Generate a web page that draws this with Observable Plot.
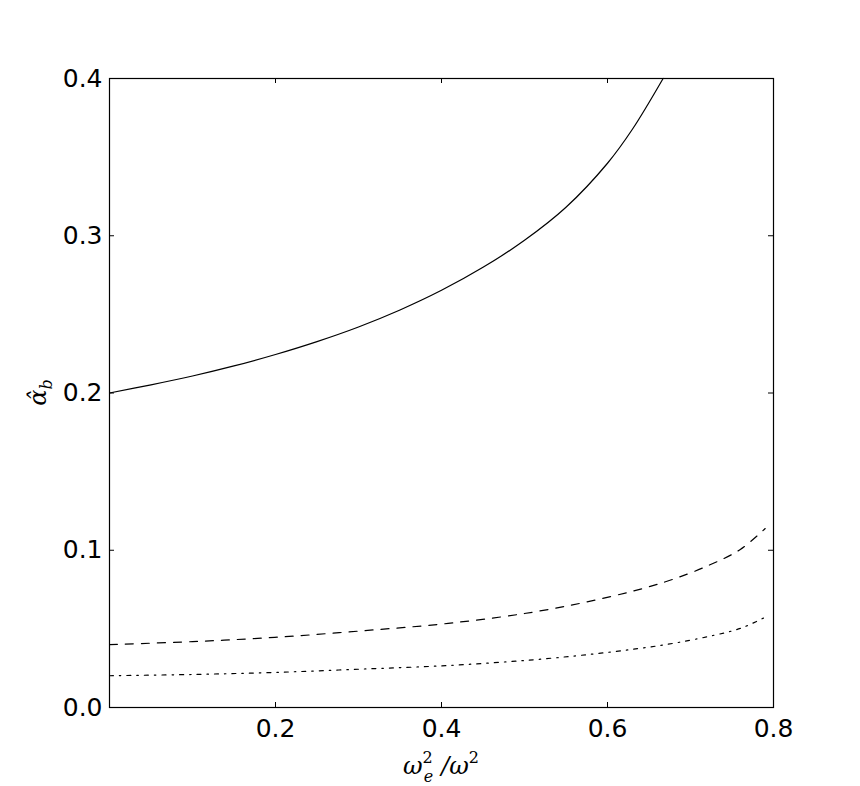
<!DOCTYPE html>
<html>
<head>
<meta charset="utf-8">
<script src="https://cdn.jsdelivr.net/npm/d3@7"></script>
<script src="https://cdn.jsdelivr.net/npm/@observablehq/plot@0.6"></script>
<style>
  html, body { margin: 0; padding: 0; background: #fff; }
  #chart svg { display: block; }
</style>
</head>
<body>
<div id="chart"></div>
<script>
// x values (ω_e^2/ω^2) and curve values
const xSolid = [0, 0.05, 0.1, 0.15, 0.2, 0.25, 0.3, 0.35, 0.4, 0.45, 0.5, 0.55, 0.6, 0.63, 0.667];
const ySolid = [0.2, 0.2052, 0.2108, 0.2172, 0.2245, 0.2327, 0.242, 0.2528, 0.2653, 0.2799, 0.2971, 0.3181, 0.3461, 0.3677, 0.4];

const xDashed = [0, 0.1, 0.199, 0.303, 0.408, 0.512, 0.601, 0.669, 0.722, 0.76, 0.79];
const yDashed = [0.04, 0.0419, 0.0446, 0.0487, 0.0535, 0.0608, 0.0702, 0.0798, 0.0904, 0.1005, 0.1138];

const xDashDot = [0, 0.1, 0.199, 0.303, 0.408, 0.512, 0.601, 0.669, 0.722, 0.76, 0.79];
const yDashDot = [0.0202, 0.021, 0.0223, 0.0244, 0.0267, 0.0304, 0.0351, 0.0399, 0.0452, 0.0503, 0.0574];

const xTickLabels = [0.2, 0.4, 0.6, 0.8];
const yTickLabels = [0.0, 0.1, 0.2, 0.3, 0.4];
const xTickMarks = [0.2, 0.4, 0.6];
const yTickMarks = [0.1, 0.2, 0.3];

const toRows = (xs, ys) => xs.map((x, i) => ({x, y: ys[i]}));
const solid = toRows(xSolid, ySolid);
const dashed = toRows(xDashed, yDashed);
const dashDot = toRows(xDashDot, yDashDot);

const W = 860, H = 786;
const mL = 109, mR = 87, mT = 78, mB = 79;
const innerW = W - mL - mR, innerH = H - mT - mB;
const tk = 5;

const chart = Plot.plot({
  width: W,
  height: H,
  marginLeft: mL,
  marginRight: mR,
  marginTop: mT,
  marginBottom: mB,
  style: {fontFamily: "DejaVu Sans", background: "#fff", color: "#000", overflow: "visible"},
  x: {domain: [0, 0.8], axis: null},
  y: {domain: [0, 0.4], axis: null},
  marks: [
    Plot.axisX(xTickLabels, {anchor: "bottom", tickSize: 0, tickPadding: 12, fontSize: 25, label: null, tickFormat: d3.format(".1f")}),
    Plot.axisY(yTickLabels, {anchor: "left", tickSize: 0, tickPadding: 7, fontSize: 25, label: null, tickFormat: d3.format(".1f")}),
    Plot.tickX(xTickMarks, {x: d => d, insetTop: innerH - tk, stroke: "#000", strokeWidth: 1}),
    Plot.tickX(xTickMarks, {x: d => d, insetBottom: innerH - tk, stroke: "#000", strokeWidth: 1}),
    Plot.tickY(yTickMarks, {y: d => d, insetRight: innerW - tk, stroke: "#000", strokeWidth: 1}),
    Plot.tickY(yTickMarks, {y: d => d, insetLeft: innerW - tk, stroke: "#000", strokeWidth: 1}),
    Plot.line(solid, {x: "x", y: "y", stroke: "#000", strokeWidth: 1.2, curve: "catmull-rom"}),
    Plot.line(dashed, {x: "x", y: "y", stroke: "#000", strokeWidth: 1.2, strokeDasharray: "8,8", curve: "catmull-rom"}),
    Plot.line(dashDot, {x: "x", y: "y", stroke: "#000", strokeWidth: 1.2, strokeDasharray: "4,6,1.5,6", curve: "catmull-rom"}),
    Plot.frame({stroke: "#000", strokeWidth: 1.2})
  ]
});

const svg = d3.select(chart);
// x axis label: ω_e^2 /ω^2
const xl = svg.append("text")
  .attr("x", mL + innerW / 2)
  .attr("y", H - 12)
  .attr("text-anchor", "middle")
  .attr("font-family", "DejaVu Serif")
  .attr("font-style", "italic")
  .attr("font-size", 24)
  .attr("fill", "#000");
xl.append("tspan").text("ω");
xl.append("tspan").attr("font-size", 16).attr("dy", -11).attr("font-style", "normal").text("2");
xl.append("tspan").attr("font-size", 16).attr("dx", -9).attr("dy", 19).text("e");
xl.append("tspan").attr("dy", -8).attr("dx", 8).text("/ω");
xl.append("tspan").attr("font-size", 16).attr("dy", -11).attr("font-style", "normal").text("2");

// y axis label: α̂_b
const yl = svg.append("text")
  .attr("transform", `translate(46,${mT + innerH / 2}) rotate(-90)`)
  .attr("text-anchor", "middle")
  .attr("font-family", "DejaVu Serif")
  .attr("font-style", "italic")
  .attr("font-size", 24)
  .attr("fill", "#000");
yl.append("tspan").text("α\u0302");
yl.append("tspan").attr("font-size", 16).attr("dy", 6).text("b");

document.getElementById("chart").appendChild(chart);
</script>
</body>
</html>
